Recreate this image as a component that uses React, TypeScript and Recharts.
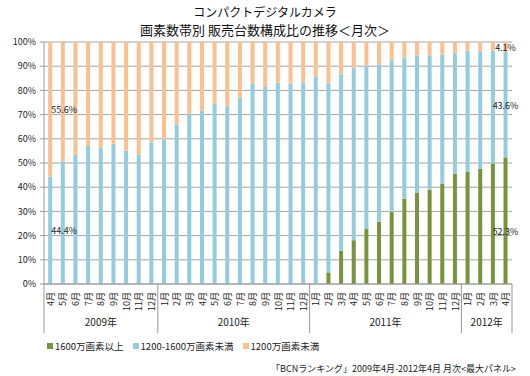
import { Bar, BarChart, CartesianGrid, LabelList, XAxis, YAxis } from "recharts";

const months = [
    "4月", "5月", "6月", "7月", "8月", "9月", "10月", "11月", "12月",
    "1月", "2月", "3月", "4月", "5月", "6月", "7月", "8月", "9月", "10月", "11月", "12月",
    "1月", "2月", "3月", "4月", "5月", "6月", "7月", "8月", "9月", "10月", "11月", "12月",
    "1月", "2月", "3月", "4月",
];

const years = [
    { label: "2009年", start: 0, count: 9 },
    { label: "2010年", start: 9, count: 12 },
    { label: "2011年", start: 21, count: 12 },
    { label: "2012年", start: 33, count: 4 },
];

const over1600 = [
    0, 0, 0, 0, 0, 0, 0, 0, 0,
    0, 0, 0, 0, 0, 0, 0, 0, 0, 0, 0, 0,
    0, 4.8, 13.7, 18.1, 22.7, 25.7, 29.8, 35.2, 37.8, 39.0, 41.5, 45.6,
    46.3, 47.6, 49.8, 52.3,
];

const from1200to1600 = [
    44.4, 50.7, 53.3, 57.0, 56.4, 58.0, 55.1, 53.3, 58.6,
    59.8, 65.9, 70.4, 71.6, 74.4, 73.4, 77.0, 83.0, 81.4, 83.3, 82.9, 83.3,
    85.8, 78.2, 73.0, 71.4, 67.6, 65.1, 62.7, 58.3, 56.6, 55.4, 53.3, 49.8,
    50.2, 48.5, 46.6, 43.6,
];

const under1200 = [
    55.6, 49.3, 46.7, 43.0, 43.6, 42.0, 44.9, 46.7, 41.4,
    40.2, 34.1, 29.6, 28.4, 25.6, 26.6, 23.0, 17.0, 18.6, 16.7, 17.1, 16.7,
    14.2, 17.0, 13.3, 10.5, 9.7, 9.2, 7.5, 6.5, 5.6, 5.6, 5.2, 4.6,
    3.5, 3.9, 3.6, 4.1,
];

const yTicks = [0, 10, 20, 30, 40, 50, 60, 70, 80, 90, 100];

const data = months.map((m, i) => ({
    name: `${i}-${m}`,
    idx: i,
    a: over1600[i],
    b: from1200to1600[i],
    c: under1200[i],
}));

const W = 530;
const H = 376;
const M = { top: 42, right: 18, left: 0, bottom: 0 };
const Y_W = 44;
const BAND = (W - M.left - M.right - Y_W) / months.length;
const FONT = "'Noto Sans CJK JP', 'Noto Sans', sans-serif";
const LAST = months.length - 1;

const MonthTick = (props: any) => {
    const { x, y, index } = props;
    const group = years.find((g) => g.start === index);
    const mid = years.find((g) => g.start + Math.floor((g.count - 1) / 2) === index);
    let midX = x;
    if (mid && mid.count % 2 === 0) midX = x + BAND / 2;
    return (
        <g>
            <text
                x={x}
                y={y + 8}
                transform={`rotate(-90, ${x}, ${y + 8})`}
                textAnchor="end"
                dominantBaseline="central"
                fontSize={9}
                fill="#222"
                fontFamily={FONT}
            >
                {props.payload.value.split("-")[1]}
            </text>
            {group && (
                <line x1={x - BAND / 2} x2={x - BAND / 2} y1={y} y2={y + 49} stroke="#999" />
            )}
            {index === LAST && (
                <line x1={x + BAND / 2} x2={x + BAND / 2} y1={y} y2={y + 49} stroke="#999" />
            )}
            {mid && (
                <text
                    x={midX}
                    y={y + 42}
                    textAnchor="middle"
                    fontSize={10}
                    fill="#222"
                    fontFamily={FONT}
                >
                    {mid.label}
                </text>
            )}
        </g>
    );
};

// label value is "idx|value" so we know which bar we are on
const pick = (key: "a" | "b" | "c") => (d: any) =>
    d.idx === 0 || d.idx === LAST ? `${d.idx}|${d[key]}` : "";

const makeLabel = (shift: number) => (props: any) => {
    const { x, y, width, height, value } = props;
    if (!value) return null;
    const [i, v] = String(value).split("|").map(Number);
    if (!v) return null;
    const first = i === 0;
    return (
        <text
            x={first ? x + width / 2 + 1 : x + width / 2}
            y={y + height / 2 + (first ? 0 : shift)}
            textAnchor={first ? "start" : "middle"}
            dominantBaseline="central"
            fontSize={9}
            fill="#222"
            fontFamily={FONT}
        >
            {`${v.toFixed(1)}%`}
        </text>
    );
};

const legendItems = [
    { name: "1600万画素以上", color: "#77933C" },
    { name: "1200-1600万画素未満", color: "#93CDDD" },
    { name: "1200万画素未満", color: "#FAC090" },
];

export default function App() {
    return (
        <div
            style={{
                position: "absolute",
                left: 0,
                top: 0,
                width: W,
                height: H,
                background: "#fff",
                fontFamily: FONT,
            }}
        >
            <div
                style={{
                    position: "absolute",
                    top: 3,
                    left: 0,
                    width: W,
                    textAlign: "center",
                    fontSize: 13,
                    lineHeight: "18px",
                    color: "#111",
                }}
            >
                <div style={{ fontSize: 12 }}>コンパクトデジタルカメラ</div>
                <div>画素数帯別 販売台数構成比の推移＜月次＞</div>
            </div>
            <BarChart
                width={W}
                height={H}
                data={data}
                margin={M}
                barCategoryGap="33%"
                style={{ position: "absolute", left: 0, top: 0 }}
            >
                <CartesianGrid vertical={false} stroke="#a6a6a6" />
                <XAxis
                    dataKey="name"
                    interval={0}
                    height={92}
                    tickLine={false}
                    tickSize={0}
                    tickMargin={0}
                    axisLine={{ stroke: "#999" }}
                    tick={<MonthTick />}
                />
                <YAxis
                    width={Y_W}
                    domain={[0, 100]}
                    ticks={yTicks}
                    allowDataOverflow
                    tickSize={4}
                    tickMargin={4}
                    tickLine={{ stroke: "#999" }}
                    axisLine={{ stroke: "#999" }}
                    tickFormatter={(v) => `${v}%`}
                    tick={{ fontSize: 9, fill: "#222", fontFamily: FONT }}
                />
                <Bar dataKey="a" stackId="s" fill="#77933C" isAnimationActive={false}>
                    <LabelList dataKey={pick("a")} content={makeLabel(11)} />
                </Bar>
                <Bar dataKey="b" stackId="s" fill="#93CDDD" isAnimationActive={false}>
                    <LabelList dataKey={pick("b")} content={makeLabel(1)} />
                </Bar>
                <Bar dataKey="c" stackId="s" fill="#FAC090" isAnimationActive={false}>
                    <LabelList dataKey={pick("c")} content={makeLabel(1)} />
                </Bar>
            </BarChart>
            <div
                style={{
                    position: "absolute",
                    top: 339,
                    left: 47,
                    display: "flex",
                    gap: 9,
                    fontSize: 9.5,
                    color: "#222",
                    lineHeight: "14px",
                }}
            >
                {legendItems.map((item) => (
                    <div key={item.name} style={{ display: "flex", alignItems: "center", gap: 2 }}>
                        <div style={{ width: 6, height: 6, background: item.color }} />
                        <div>{item.name}</div>
                    </div>
                ))}
            </div>
            <div
                style={{
                    position: "absolute",
                    top: 362,
                    right: 14,
                    fontSize: 9,
                    color: "#222",
                    lineHeight: "13px",
                    whiteSpace: "nowrap",
                }}
            >
                「BCNランキング」2009年4月-2012年4月 月次&lt;最大パネル&gt;
            </div>
        </div>
    );
}
